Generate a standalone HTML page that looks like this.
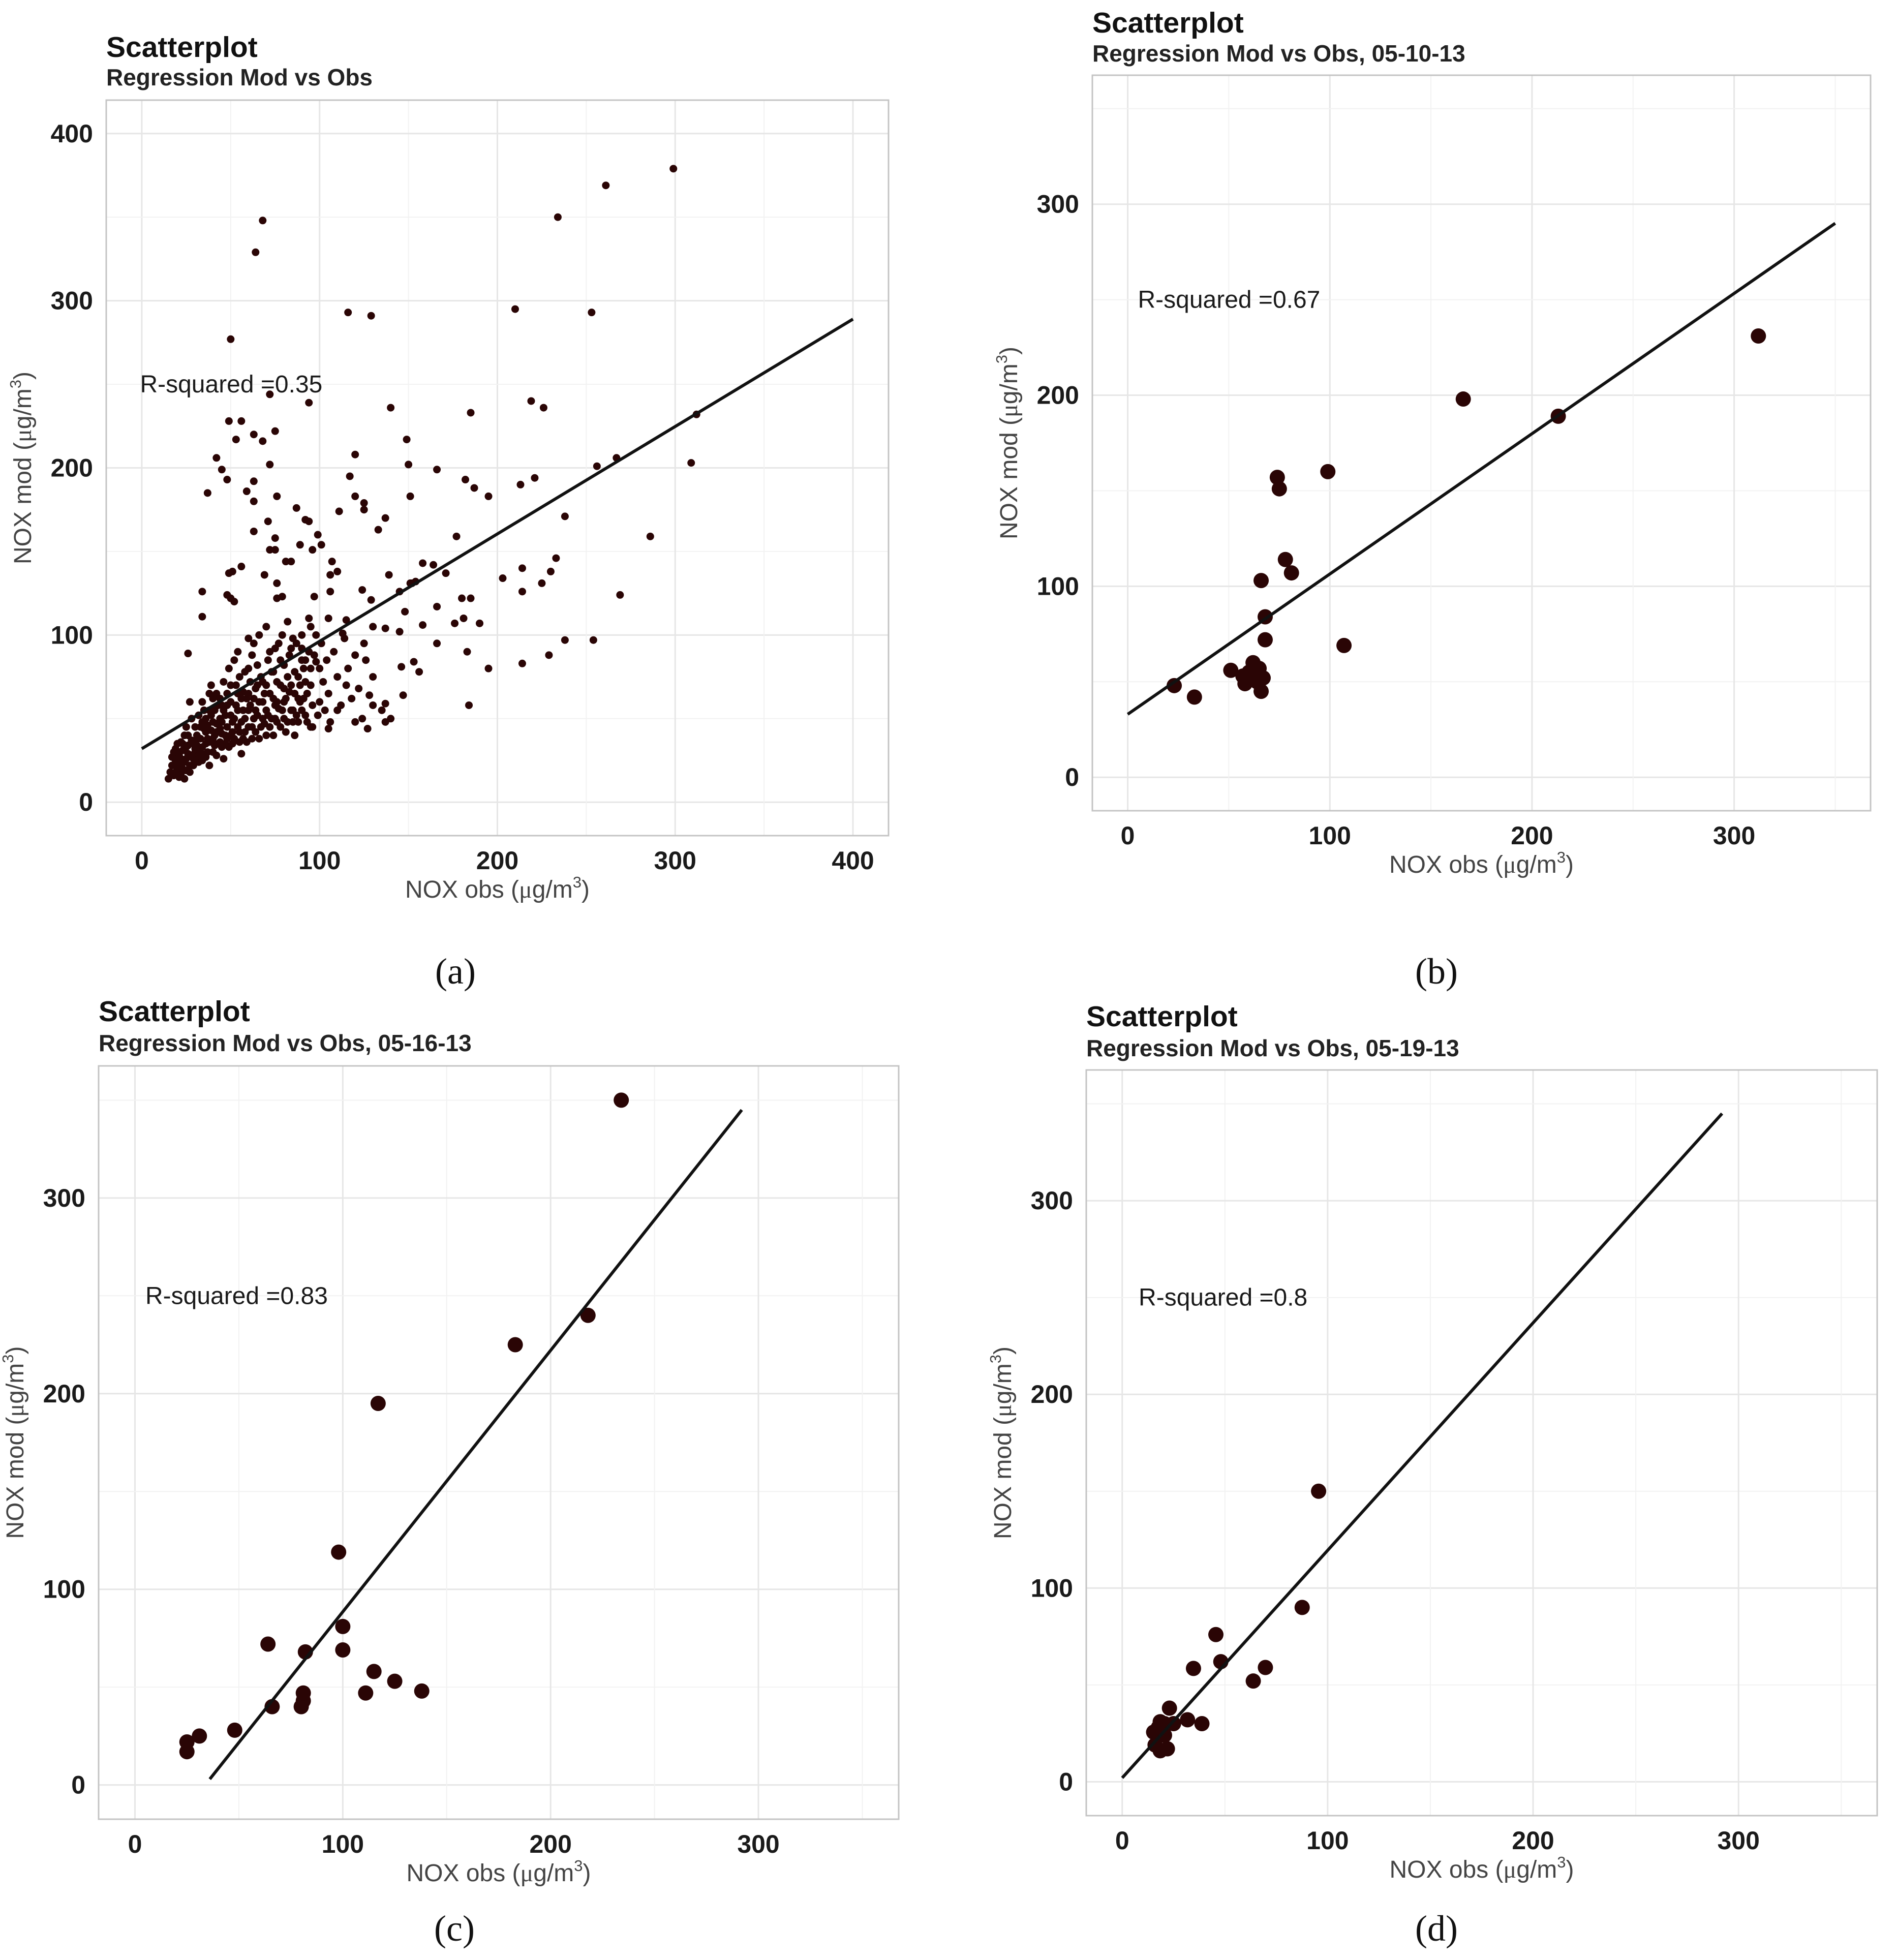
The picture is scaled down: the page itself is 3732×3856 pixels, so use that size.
<!DOCTYPE html>
<html><head><meta charset="utf-8">
<style>
html,body{margin:0;padding:0;background:#fff;}
svg{display:block;font-family:"Liberation Sans",Arial,sans-serif;}
.t1{font-size:57px;font-weight:bold;fill:#111;}
.t2{font-size:46px;font-weight:bold;fill:#222;}
.tick{font-size:50px;font-weight:bold;fill:#1a1a1a;}
.axt{font-size:48px;fill:#444;}
.rs{font-size:48px;fill:#1a1a1a;}
.cap{font-family:"Liberation Serif",serif;font-size:72px;fill:#111;}
</style></head>
<body>
<svg id="chart" width="3732" height="3856" viewBox="0 0 3732 3856" xmlns="http://www.w3.org/2000/svg">
<rect width="3732" height="3856" fill="#fff"/>
</svg>
<script>
// ---- data ----
const ticksA = [0,100,200,300,400];
const ticksB = [0,100,200,300];
const lineA = [[0,32],[400,289]];
const lineB = [[0,33],[350,290]];
const lineC = [[36,3],[292,345]];
const lineD = [[0,2],[292,345]];
const rsqA = "R-squared =0.35";
const rsqB = "R-squared =0.67";
const rsqC = "R-squared =0.83";
const rsqD = "R-squared =0.8";
const pointsB = [[23,48],[33,42],[51,56],[57,53],[58,49],[62,60],[64,50],[65,57],[66,45],[67,52],[66,103],[68,84],[68,72],[74,157],[75,151],[78,114],[81,107],[99,160],[107,69],[166,198],[213,189],[312,231],[60,55]];
const pointsC = [[25,22],[25,17],[31,25],[48,28],[64,72],[66,40],[80,40],[81,43],[81,47],[82,68],[98,119],[100,81],[100,69],[111,47],[115,58],[117,195],[125,53],[138,48],[183,225],[218,240],[234,350]];
const pointsD = [[95.6,150],[87.6,90],[45.6,76],[48,62],[34.7,58.5],[69.7,59],[63.8,52],[23,38],[31.8,32],[38.8,30],[25,30],[18.5,31],[15.3,25.6],[20.6,24],[16,19],[22,17],[18.5,16],[17.6,28],[20.6,30]];
const pointsAOut = [[299,379],[261,369],[234,350],[68,348],[64,329],[116,293],[129,291],[210,295],[253,293],[50,277],[72,244],[94,239],[140,236],[219,240],[226,236],[185,233],[312,232],[49,228],[56,228],[149,217],[53,217],[63,220],[68,216],[75,222],[120,208],[42,206],[45,199],[72,202],[150,202],[166,199],[256,201],[267,206],[309,203],[48,193],[63,192],[59,186],[117,195],[182,193],[221,194],[213,190],[187,188],[37,185],[76,183],[120,183],[151,183],[195,183],[63,180],[125,179],[125,175],[111,174],[137,170],[238,171],[71,168],[92,169],[94,168],[87,176],[133,163],[63,162],[177,159],[286,159],[75,158],[99,160],[101,154],[89,154],[72,151],[75,151],[96,151],[233,146],[214,140],[230,138],[164,142],[158,143],[107,144],[84,144],[81,144],[203,134],[225,131],[152,131],[154,132],[151,131],[49,137],[51,138],[56,141],[106,136],[110,138],[139,136],[69,136],[171,137],[269,124],[214,126],[180,122],[185,122],[166,117],[34,126],[145,126],[124,127],[48,124],[50,122],[52,120],[76,122],[79,123],[97,123],[106,126],[76,131],[129,121],[176,107],[181,110],[190,107],[158,106],[137,104],[148,114],[145,102],[34,111],[115,109],[113,101],[238,97],[254,97],[166,95],[183,90],[229,88],[214,83],[195,80],[153,84],[146,81],[156,78],[130,75],[147,64],[184,58],[137,59],[137,48],[127,44],[105,44],[95,45],[26,89]];
const pointsACluster = [[15,14],[16,18],[17,22],[18,16],[19,25],[20,20],[21,28],[22,17],[23,31],[24,24],[25,19],[26,29],[17,27],[19,32],[21,22],[23,35],[24,14],[18,30],[20,35],[22,26],[25,33],[27,22],[28,37],[29,26],[30,30],[31,40],[32,24],[33,45],[34,33],[35,28],[36,50],[37,38],[38,22],[39,43],[40,30],[41,55],[42,47],[43,35],[44,62],[45,41],[46,26],[47,52],[48,45],[49,33],[50,60],[51,48],[52,38],[53,70],[54,55],[55,42],[56,29],[57,66],[58,50],[59,36],[60,80],[61,58],[62,45],[63,95],[64,68],[65,52],[66,38],[67,75],[68,60],[69,47],[70,105],[71,85],[72,65],[73,50],[74,40],[75,92],[76,72],[77,56],[78,45],[79,100],[80,82],[81,62],[82,48],[83,88],[84,70],[85,55],[86,40],[87,95],[88,75],[89,60],[90,100],[91,80],[92,52],[93,65],[94,90],[95,70],[96,45],[98,84],[100,60],[101,95],[102,72],[103,55],[104,85],[105,65],[106,48],[108,90],[110,75],[112,58],[114,98],[116,80],[118,62],[120,88],[122,68],[124,50],[126,85],[128,64],[130,105],[30,45],[32,52],[34,60],[36,42],[38,55],[40,48],[42,65],[44,50],[46,72],[48,58],[50,40],[52,85],[54,65],[56,48],[58,78],[60,55],[62,88],[64,42],[66,100],[68,72],[70,55],[72,90],[74,62],[76,48],[78,85],[80,68],[82,108],[84,55],[86,78],[88,62],[90,92],[92,72],[94,110],[96,58],[98,100],[100,80],[26,40],[28,50],[30,36],[32,28],[34,48],[36,35],[38,65],[40,38],[42,42],[44,36],[46,55],[48,38],[50,70],[52,50],[54,45],[56,62],[58,42],[60,65],[62,38],[64,55],[66,60],[68,50],[70,70],[72,45],[74,78],[76,60],[78,70],[80,50],[82,75],[84,92],[86,65],[88,48],[90,55],[92,85],[25,45],[27,60],[29,35],[31,25],[33,38],[35,55],[37,30],[39,70],[41,40],[43,58],[45,48],[47,35],[49,80],[51,42],[53,58],[55,75],[57,38],[59,62],[61,72],[63,50],[65,82],[67,45],[69,65],[71,52],[73,78],[75,58],[77,95],[79,55],[81,42],[83,66],[85,98],[87,52],[89,70],[91,62],[93,48],[95,80],[97,88],[99,52],[35,44],[40,62],[45,33],[50,52],[55,36],[60,45],[65,70],[70,40],[75,50],[80,60],[85,48],[90,85],[95,105],[105,110],[110,55],[115,70],[120,48],[125,95],[130,58],[135,55],[140,50],[28,28],[30,32],[33,30],[36,27],[38,36],[41,34],[44,44],[47,40],[20,30],[22,36],[24,40],[26,34],[19,18],[21,15],[23,20],[25,26],[27,18],[29,22],[31,34],[34,25],[37,46],[39,52],[42,28],[45,58],[48,65],[51,35],[54,90],[57,55],[60,98],[63,62]];

const NS = "http://www.w3.org/2000/svg";
const svg = document.getElementById('chart');
function mk(tag, attrs, parent){
  const e = document.createElementNS(NS, tag);
  for (const k in attrs) e.setAttribute(k, attrs[k]);
  (parent||svg).appendChild(e);
  return e;
}

function panel(cfg){
  const g = mk('g', {});
  
  
  const L=cfg.box[0], R=cfg.box[1], T=cfg.box[2], B=cfg.box[3];
  const d0=cfg.dom[0], d1=cfg.dom[1];
  const sx = v => L + (v - d0) / (d1 - d0) * (R - L);
  const sy = v => B - (v - d0) / (d1 - d0) * (B - T);
  const bg = mk('rect', {x:L, y:T, width:R-L, height:B-T, fill:'#fff'}, g);
  
  
  const step = cfg.ticks[1]-cfg.ticks[0];
  for (let v = Math.ceil(d0/(step/2))*(step/2); v <= d1; v += step/2) {
    const major = Math.abs(v/step - Math.round(v/step)) < 1e-6;
    const c = major ? '#e6e6e6' : '#f2f2f2';
    const gx = mk('line', {x1:sx(v), x2:sx(v), y1:T, y2:B, stroke:c, 'stroke-width':major?3:2}, g);
    
    
    const gy = mk('line', {x1:L, x2:R, y1:sy(v), y2:sy(v), stroke:c, 'stroke-width':major?3:2}, g);
    
    
  }
  const bd = mk('rect', {x:L, y:T, width:R-L, height:B-T, fill:'none', stroke:'#c4c4c4', 'stroke-width':3}, g);
  
  
  cfg.ticks.forEach(v => {
    const tx = mk('text', {x:sx(v), y:B+66, 'text-anchor':'middle', class:'tick'}, g);
    tx.textContent = v;
    
    
    const ty = mk('text', {x:L-26, y:sy(v)+17, 'text-anchor':'end', class:'tick'}, g);
    ty.textContent = v;
    
    
  });
  cfg.pts.forEach(p => {
    const c = mk('circle', {cx:sx(p[0]), cy:sy(p[1]), r:cfg.r, fill:'#2a0505'}, g);
    
    
  });
  const ln = mk('line', {x1:sx(cfg.line[0][0]), y1:sy(cfg.line[0][1]), x2:sx(cfg.line[1][0]), y2:sy(cfg.line[1][1]), stroke:'#111', 'stroke-width':6}, g);
  
  
  const rs = mk('text', {x:sx(cfg.rsx), y:sy(250)+16, class:'rs'}, g);
  rs.textContent = cfg.rsq;
  
  
  const t1 = mk('text', {x:L, y:cfg.ty1, class:'t1'}, g);
  t1.textContent = 'Scatterplot';
  
  
  const t2 = mk('text', {x:L, y:cfg.ty2, class:'t2'}, g);
  t2.textContent = cfg.sub;
  
  
  const xt = mk('text', {x:(L+R)/2, y:B+122, 'text-anchor':'middle', class:'axt'}, g);
  xt.innerHTML = 'NOX obs (<tspan font-family="Liberation Serif">&#956;</tspan>g/m<tspan dy="-20" font-size="31">3</tspan><tspan dy="20">)</tspan>';
  
  
  const yx = L-148, yy=(T+B)/2;
  const yt = mk('text', {x:yx, y:yy, 'text-anchor':'middle', class:'axt', transform:'rotate(-90 '+yx+' '+yy+')'}, g);
  yt.innerHTML = 'NOX mod (<tspan font-family="Liberation Serif">&#956;</tspan>g/m<tspan dy="-20" font-size="31">3</tspan><tspan dy="20">)</tspan>';
  
  
  const cp = mk('text', {x:cfg.cap[0], y:cfg.cap[1], 'text-anchor':'middle', class:'cap'}, g);
  cp.textContent = '(' + cfg.id + ')';
  
  
}

panel({id:'a', box:[209,1748,197,1644], dom:[-20,420], ticks:ticksA, pts:pointsAOut.concat(pointsACluster), r:7.5, line:lineA, rsq:rsqA, rsx:-1, ty1:112, ty2:168, sub:'Regression Mod vs Obs', cap:[896,1935]});
panel({id:'b', box:[2149,3680,148,1595], dom:[-17.5,367.5], ticks:ticksB, pts:pointsB, r:15, line:lineB, rsq:rsqB, rsx:5, ty1:64, ty2:121, sub:'Regression Mod vs Obs, 05-10-13', cap:[2826,1935]});
panel({id:'c', box:[194,2097,1768-0,3579].length?[194,1768,2097,3579]:[194,1768,2097,3579], dom:[-17.5,367.5], ticks:ticksB, pts:pointsC, r:15, line:lineC, rsq:rsqC, rsx:5, ty1:2009, ty2:2068, sub:'Regression Mod vs Obs, 05-16-13', cap:[894,3818]});
panel({id:'d', box:[2137,3693,2105,3572], dom:[-17.5,367.5], ticks:ticksB, pts:pointsD, r:15, line:lineD, rsq:rsqD, rsx:8, ty1:2019, ty2:2078, sub:'Regression Mod vs Obs, 05-19-13', cap:[2826,3818]});
</script>
</body></html>
